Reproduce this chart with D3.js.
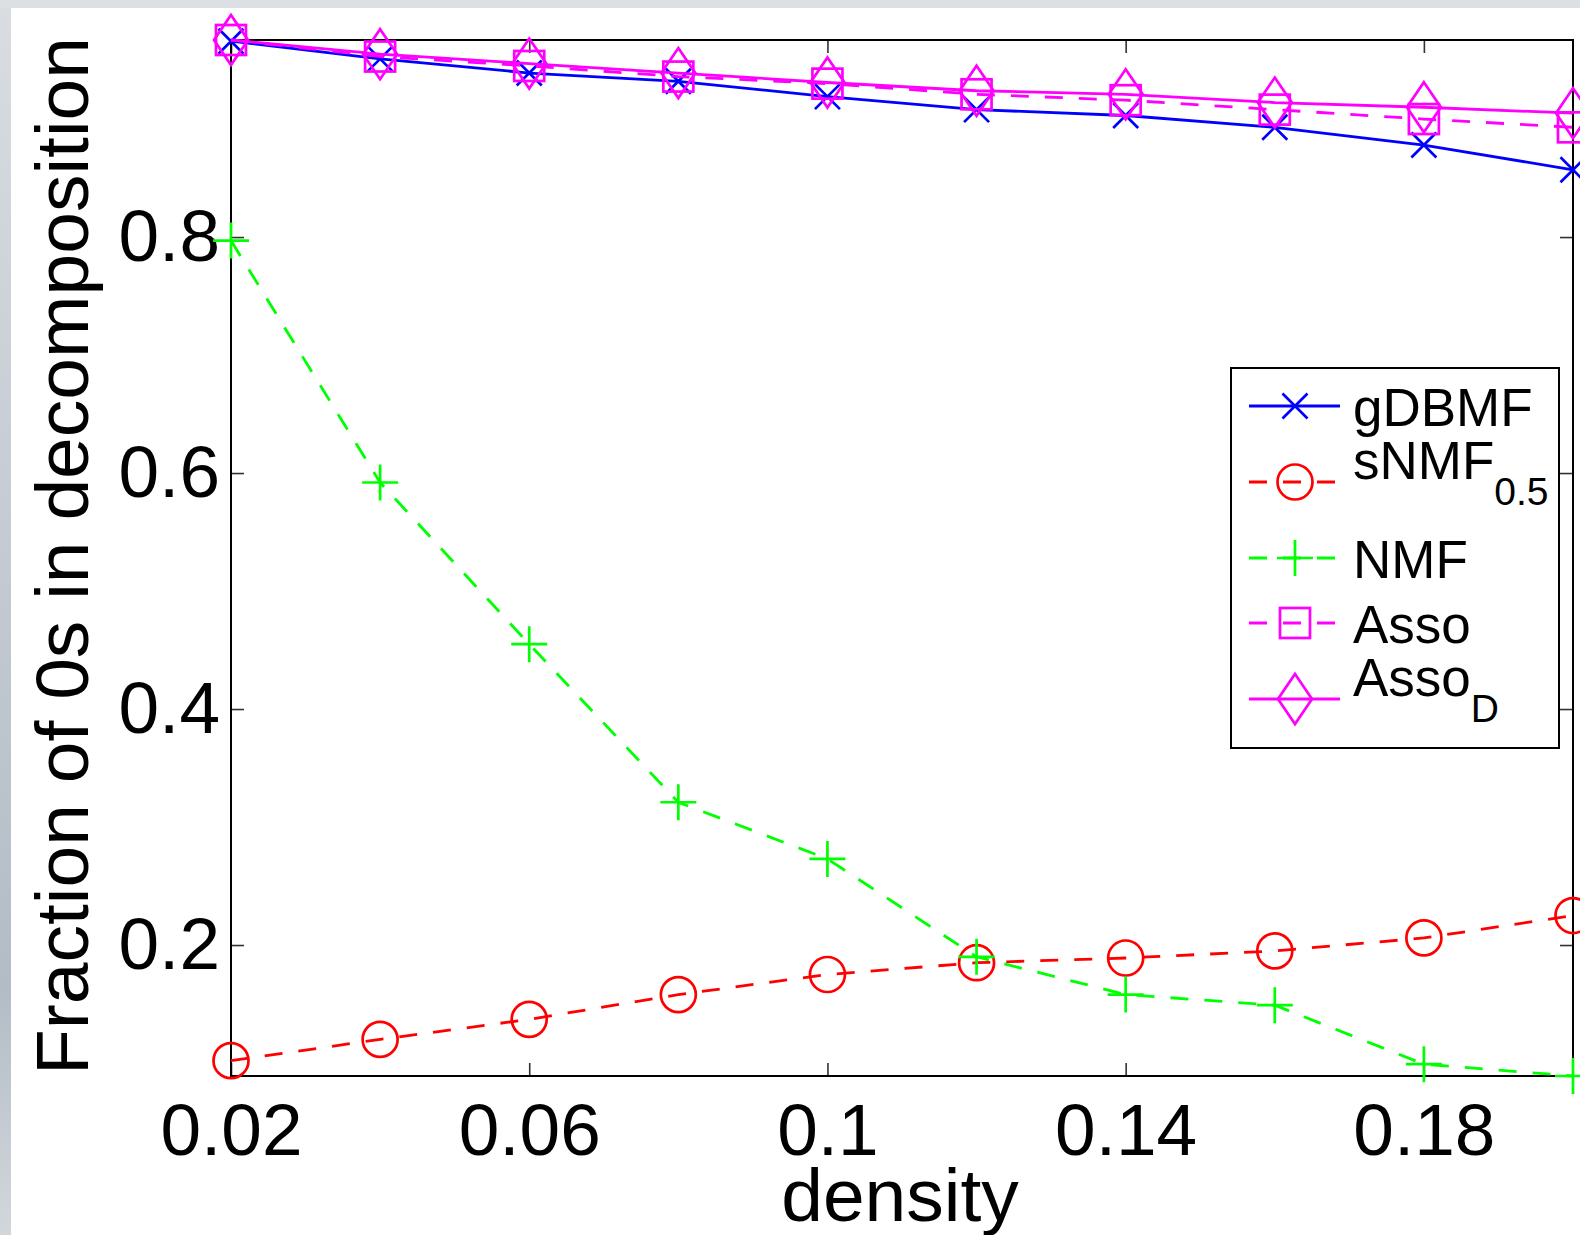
<!DOCTYPE html>
<html>
<head>
<meta charset="utf-8">
<script src="https://cdn.jsdelivr.net/npm/d3@7"></script>
<style>
  html, body { margin: 0; padding: 0; background: #fff; overflow: hidden; }
  svg { display: block; font-family: "Liberation Sans", Arial, Helvetica, sans-serif; }
</style>
</head>
<body>
<svg id="chart" width="1580" height="1235"></svg>
<script>
// data
const density = [0.02, 0.04, 0.06, 0.08, 0.10, 0.12, 0.14, 0.16, 0.18, 0.20];
const gDBMF   = [0.966, 0.951, 0.939, 0.932, 0.919, 0.908, 0.903, 0.893, 0.878, 0.857];
const sNMF    = [0.102, 0.120, 0.137, 0.158, 0.175, 0.185, 0.189, 0.195, 0.206, 0.225];
const NMF     = [0.797, 0.592, 0.455, 0.321, 0.273, 0.190, 0.158, 0.149, 0.099, 0.089];
const Asso    = [0.967, 0.953, 0.945, 0.936, 0.930, 0.921, 0.916, 0.908, 0.900, 0.893];
const AssoD   = [0.967, 0.955, 0.947, 0.939, 0.931, 0.924, 0.921, 0.914, 0.910, 0.905];

const xTicks = [0.02, 0.06, 0.1, 0.14, 0.18];
const yTicks = [0.2, 0.4, 0.6, 0.8];
const xLabel = "density";
const yLabel = "Fraction of 0s in decomposition";

const series = [
  { name: "gDBMF", sub: null,  values: gDBMF, color: "#0000ff", dash: null,    marker: "x" },
  { name: "sNMF",  sub: "0.5", values: sNMF,  color: "#ff0000", dash: "18,16", marker: "o" },
  { name: "NMF",   sub: null,  values: NMF,   color: "#00ff00", dash: "18,16", marker: "+" },
  { name: "Asso",  sub: null,  values: Asso,  color: "#ff00ff", dash: "18,16", marker: "s" },
  { name: "Asso",  sub: "D",   values: AssoD, color: "#ff00ff", dash: null,    marker: "d" }
];

const svg = d3.select("#chart");
const W = 1580, H = 1235;
const plot = { left: 231, right: 1573, top: 40, bottom: 1076 };

// grey frame around the figure (screenshot border)
const defs = svg.append("defs");
const grad = defs.append("linearGradient").attr("id", "edge").attr("x1", 0).attr("y1", 0).attr("x2", 0).attr("y2", 1);
grad.append("stop").attr("offset", "0%").attr("stop-color", "#d9dde2");
grad.append("stop").attr("offset", "80%").attr("stop-color", "#b3bcc5");
grad.append("stop").attr("offset", "100%").attr("stop-color", "#d2d7dc");
svg.append("rect").attr("width", W).attr("height", H).attr("fill", "url(#edge)");
svg.append("rect").attr("x", 0).attr("y", 0).attr("width", W).attr("height", 8).attr("fill", "#dce0e4");
svg.append("rect").attr("x", 11).attr("y", 8).attr("width", W - 11).attr("height", H - 8).attr("fill", "#fff");

const allValues = series.flatMap(s => s.values);
const x = d3.scaleLinear().domain(d3.extent(density)).range([plot.left, plot.right]);
const y = d3.scaleLinear().domain(d3.extent(allValues)).range([plot.bottom, plot.top]);

const fmt = d3.format("~g");
const tickFont = 73;

// axes (ticks inward, like MATLAB)
const gx = svg.append("g").attr("transform", `translate(0,${plot.bottom})`)
  .call(d3.axisBottom(x).tickValues(xTicks).tickFormat(fmt).tickSize(-13).tickPadding(27));
const gxTop = svg.append("g").attr("transform", `translate(0,${plot.top})`)
  .call(d3.axisTop(x).tickValues(xTicks).tickFormat("").tickSize(-13));
const gy = svg.append("g").attr("transform", `translate(${plot.left},0)`)
  .call(d3.axisLeft(y).tickValues(yTicks).tickFormat(fmt).tickSize(-13).tickPadding(11));
const gyRight = svg.append("g").attr("transform", `translate(${plot.right},0)`)
  .call(d3.axisRight(y).tickValues(yTicks).tickFormat("").tickSize(-13));

[gx, gxTop, gy, gyRight].forEach(g => {
  g.select(".domain").remove();
  g.selectAll(".tick line").attr("stroke", "#333").attr("stroke-width", 1.6);
  g.selectAll(".tick text").attr("fill", "#000").attr("font-size", tickFont)
    .attr("font-family", "Liberation Sans, Arial, sans-serif");
});

svg.append("rect")
  .attr("x", plot.left).attr("y", plot.top)
  .attr("width", plot.right - plot.left).attr("height", plot.bottom - plot.top)
  .attr("fill", "none").attr("stroke", "#000").attr("stroke-width", 2);

// axis labels
svg.append("text")
  .attr("x", (plot.left + plot.right) / 2 - 2).attr("y", 1221)
  .attr("text-anchor", "middle").attr("font-size", 75).text(xLabel);
svg.append("text")
  .attr("transform", `translate(88,${(plot.top + plot.bottom) / 2 - 2}) rotate(-90)`)
  .attr("text-anchor", "middle").attr("font-size", 75).text(yLabel);

// markers
function marker(g, type, cx, cy, color) {
  const m = g.append("g").attr("transform", `translate(${cx},${cy})`)
    .attr("fill", "none").attr("stroke", color).attr("stroke-width", 2.7);
  if (type === "x") m.append("path").attr("d", "M-12.5,-12.5L12.5,12.5M-12.5,12.5L12.5,-12.5");
  if (type === "o") m.append("circle").attr("r", 17.5);
  if (type === "+") m.append("path").attr("d", "M-18,0H18M0,-18V18");
  if (type === "s") m.append("rect").attr("x", -15).attr("y", -15).attr("width", 30).attr("height", 30);
  if (type === "d") m.append("path").attr("d", "M0,-25L17,0L0,25L-17,0Z");
}

const line = d3.line().x(d => x(d[0])).y(d => y(d[1]));

series.forEach(s => {
  const pts = density.map((d, i) => [d, s.values[i]]);
  const g = svg.append("g");
  g.append("path").datum(pts)
    .attr("d", line)
    .attr("fill", "none").attr("stroke", s.color).attr("stroke-width", 2.8)
    .attr("stroke-dasharray", s.dash);
  pts.forEach(p => marker(g, s.marker, x(p[0]), y(p[1]), s.color));
});

// legend
const legend = { x: 1231, y: 368, w: 328, h: 380 };
const legendRowY = [406, 482, 558, 623, 699];
const lg = svg.append("g");
lg.append("rect").attr("x", legend.x).attr("y", legend.y).attr("width", legend.w).attr("height", legend.h)
  .attr("fill", "#fff").attr("stroke", "#000").attr("stroke-width", 2);

series.forEach((s, i) => {
  const ly = legendRowY[i];
  lg.append("line").attr("x1", 1249).attr("x2", 1340).attr("y1", ly).attr("y2", ly)
    .attr("stroke", s.color).attr("stroke-width", 2.8).attr("stroke-dasharray", s.dash);
  marker(lg, s.marker, 1295, ly, s.color);
  const t = lg.append("text").attr("x", 1353).attr("font-size", 53).attr("fill", "#000");
  if (s.sub) {
    t.attr("y", ly - 3).text(s.name);
    t.append("tspan").attr("dy", 26).attr("font-size", 39).text(s.sub);
  } else {
    t.attr("y", ly + 20).text(s.name);
  }
});
</script>
</body>
</html>
